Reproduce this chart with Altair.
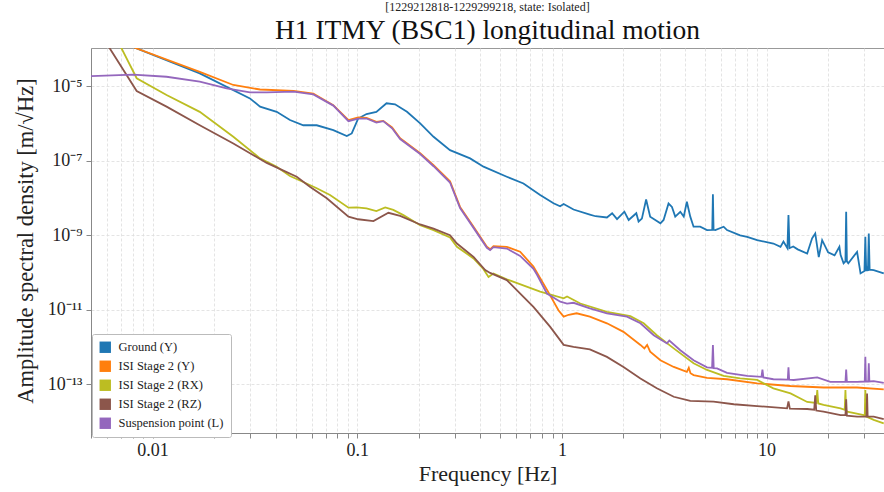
import altair as alt
import pandas as pd

# ---------------- data ----------------
series_names = ["Ground (Y)", "ISI Stage 2 (Y)", "ISI Stage 2 (RX)",
                "ISI Stage 2 (RZ)", "Suspension point (L)"]
series_colors = ["#1f77b4", "#ff7f0e", "#bcbd22", "#8c564b", "#9467bd"]

ground_freq = [0.005, 0.00836, 0.0170, 0.0299, 0.0335, 0.0404, 0.0469, 0.0545, 0.0634,
               0.0764, 0.0889, 0.0940, 0.101, 0.111, 0.124, 0.139, 0.153, 0.175, 0.203,
               0.236, 0.284, 0.356, 0.414, 0.538, 0.649, 0.783, 0.910, 0.98, 1.02, 1.14,
               1.37, 1.46, 1.66, 1.76, 1.86, 2.02, 2.12, 2.31, 2.37, 2.46, 2.58, 2.70, 2.86,
               3.03, 3.14, 3.32, 3.45, 3.58, 3.79, 3.94, 4.08, 4.24, 4.40, 4.74, 5.12, 5.43,
               5.47, 5.51, 5.62, 6.17, 6.41, 7.43, 8.04, 9.0, 10.8, 11.7, 12.1, 12.65, 12.8,
               12.95, 13.5, 14.2, 15.8, 16.7, 17.3, 18.0, 18.7, 20.0, 21.5, 22.7, 23.0, 23.8,
               24.3, 24.5, 24.7, 25.1, 27.7, 28.8, 30.1, 30.4, 30.7, 31.0, 31.3, 31.6, 31.9,
               33.4, 37.4]
ground_asd = [3.0e-4, 1.02e-4, 2.19e-5, 4.68e-6, 2.82e-6, 2.04e-6, 1.23e-6, 8.9e-7, 8.9e-7,
              6.6e-7, 4.57e-7, 5.37e-7, 1.35e-6, 1.78e-6, 2.04e-6, 3.47e-6, 3.24e-6, 2.04e-6,
              1.0e-6, 4.37e-7, 1.91e-7, 1.15e-7, 6.9e-8, 3.72e-8, 2.45e-8, 1.20e-8, 7.2e-9,
              6.0e-9, 6.9e-9, 4.9e-9, 3.6e-9, 3.24e-9, 3.0e-9, 3.9e-9, 2.7e-9, 4.3e-9,
              2.57e-9, 3.9e-9, 2.34e-9, 2.8e-9, 9.1e-9, 3.16e-9, 2.57e-9, 2.09e-9, 2.57e-9,
              7.1e-9, 5.75e-9, 3.16e-9, 4.27e-9, 3.16e-9, 7.9e-9, 3.16e-9, 1.70e-9, 1.70e-9,
              1.38e-9, 1.4e-9, 1.26e-8, 1.4e-9, 1.38e-9, 1.70e-9, 1.38e-9, 1.0e-9, 9.1e-10,
              7.4e-10, 6.0e-10, 4.9e-10, 6.8e-10, 4.5e-10, 3.47e-9, 4.5e-10, 5.0e-10, 4.2e-10,
              3.24e-10, 8.3e-10, 1.12e-9, 2.6e-10, 7.4e-10, 3.5e-10, 2.9e-10, 4.9e-10, 3.0e-10,
              1.78e-10, 2.0e-10, 4.27e-9, 2.0e-10, 1.78e-10, 3.6e-10, 9.5e-11, 1.1e-10,
              9.1e-10, 1.1e-10, 1.26e-10, 1.1e-10, 1.12e-9, 1.2e-10, 1.17e-10, 9.5e-11]

isi_y_freq = [0.005, 0.00836, 0.0170, 0.0248, 0.0335, 0.0488, 0.0610, 0.0764, 0.0906, 0.101,
              0.111, 0.124, 0.134, 0.148, 0.162, 0.203, 0.236, 0.284, 0.318, 0.370, 0.430,
              0.446, 0.463, 0.538, 0.625, 0.726, 0.845, 0.962, 1.02, 1.08, 1.18, 1.37, 1.66,
              2.00, 2.42, 2.53, 2.61, 2.70, 3.03, 3.52, 4.08, 4.17, 4.25, 4.40, 5.12, 6.41,
              9.0, 13.1, 19.0, 27.7, 37.4]
isi_y_asd = [3.2e-4, 1.02e-4, 2.40e-5, 1.07e-5, 8.1e-6, 7.4e-6, 6.3e-6, 3.09e-6, 1.23e-6,
             1.45e-6, 1.41e-6, 1.10e-6, 1.17e-6, 7.8e-7, 4.0e-7, 1.58e-7, 7.6e-8, 2.8e-8,
             5.75e-9, 1.70e-9, 4.9e-10, 4.2e-10, 5.1e-10, 4.9e-10, 3.63e-10, 1.45e-10,
             3.5e-11, 9.8e-12, 6.6e-12, 7.4e-12, 8.1e-12, 6.6e-12, 4.37e-12, 2.57e-12,
             1.15e-12, 9.3e-13, 1.15e-12, 7.6e-13, 4.47e-13, 2.95e-13, 2.19e-13, 2.8e-13,
             2.0e-13, 1.78e-13, 1.51e-13, 1.38e-13, 1.07e-13, 9.1e-14, 8.3e-14, 8.3e-14,
             7.4e-14]

isi_rx_freq = [0.0060, 0.00705, 0.00836, 0.0117, 0.0170, 0.0248, 0.0335, 0.0404, 0.0469,
               0.0545, 0.0634, 0.0736, 0.0906, 0.0995, 0.111, 0.124, 0.137, 0.150, 0.168,
               0.203, 0.236, 0.284, 0.307, 0.370, 0.414, 0.438, 0.463, 0.538, 0.783, 1.02,
               1.06, 1.23, 1.66, 2.16, 2.51, 2.91, 3.52, 4.40, 5.12, 6.17, 7.43, 9.0, 10.8,
               13.1, 15.8, 17.5, 17.7, 17.9, 19.0, 23.0, 24.1, 24.3, 24.5, 24.8, 29.9, 30.2,
               30.4, 30.6, 33.4, 37.4]
isi_rx_asd = [6.0e-4, 1.02e-4, 1.62e-5, 5.75e-6, 2.04e-6, 4.37e-7, 1.15e-7, 6.9e-8, 3.89e-8,
              2.69e-8, 1.82e-8, 1.20e-8, 5.5e-9, 5.6e-9, 5.25e-9, 4.47e-9, 5.6e-9, 4.8e-9,
              3.47e-9, 1.86e-9, 1.38e-9, 8.7e-10, 4.9e-10, 2.40e-10, 1.23e-10, 7.6e-11,
              9.5e-11, 6.6e-11, 3.09e-11, 2.04e-11, 2.29e-11, 1.48e-11, 8.9e-12, 6.8e-12,
              4.37e-12, 2.09e-12, 9.3e-13, 3.72e-13, 2.45e-13, 1.70e-13, 1.45e-13, 1.32e-13,
              7.9e-14, 5.75e-14, 3.39e-14, 3.2e-14, 7.1e-14, 3.1e-14, 2.82e-14, 2.29e-14,
              2.1e-14, 7.1e-14, 2.0e-14, 1.86e-14, 1.51e-14, 1.5e-14, 7.1e-14, 1.4e-14,
              1.12e-14, 9.1e-15]

isi_rz_freq = [0.005, 0.00618, 0.00836, 0.0117, 0.0170, 0.0248, 0.0361, 0.0436, 0.0506,
               0.0587, 0.0710, 0.0906, 0.101, 0.120, 0.142, 0.162, 0.203, 0.236, 0.284,
               0.307, 0.370, 0.422, 0.446, 0.538, 0.649, 0.726, 0.875, 1.02, 1.14, 1.37,
               1.66, 2.00, 2.42, 2.91, 3.52, 4.24, 5.51, 6.92, 9.0, 12.6, 12.8, 13.0, 15.8,
               17.1, 17.3, 17.5, 19.0, 23.0, 24.3, 24.5, 24.7, 27.7, 30.8, 31.0, 31.2, 33.4,
               37.4]
isi_rz_asd = [6.5e-4, 1.02e-4, 7.4e-6, 2.82e-6, 8.9e-7, 2.88e-7, 8.7e-8, 5.4e-8, 3.72e-8,
              2.0e-8, 9.8e-9, 3.16e-9, 2.69e-9, 2.40e-9, 4.0e-9, 3.31e-9, 1.95e-9, 1.51e-9,
              1.0e-9, 6.0e-10, 2.63e-10, 1.17e-10, 9.8e-11, 6.3e-11, 2.24e-11, 1.20e-11,
              3.55e-12, 1.15e-12, 1.02e-12, 8.7e-13, 5.5e-13, 2.95e-13, 1.45e-13, 7.9e-14,
              4.68e-14, 3.63e-14, 3.47e-14, 2.95e-14, 2.63e-14, 2.29e-14, 3.5e-14, 2.25e-14,
              2.2e-14, 2.1e-14, 5.1e-14, 2.0e-14, 1.86e-14, 1.51e-14, 1.5e-14, 4.0e-14,
              1.45e-14, 1.38e-14, 1.4e-14, 5.75e-14, 1.4e-14, 1.38e-14, 1.17e-14]

susp_freq = [0.005, 0.00804, 0.0117, 0.0170, 0.0230, 0.0299, 0.0361, 0.0488, 0.0610, 0.0764,
             0.0906, 0.101, 0.111, 0.124, 0.134, 0.148, 0.162, 0.203, 0.236, 0.284, 0.318,
             0.370, 0.430, 0.446, 0.463, 0.538, 0.625, 0.726, 0.755, 0.845, 0.982, 1.06,
             1.14, 1.37, 1.66, 2.08, 2.42, 2.81, 3.26, 3.35, 3.79, 4.40, 5.12, 5.42, 5.47,
             5.52, 5.73, 6.41, 8.04, 9.45, 9.55, 9.65, 10.8, 12.7, 12.8, 12.9, 13.6, 17.7,
             20.5, 24.3, 24.5, 24.7, 27.7, 30.2, 30.4, 30.6, 31.4, 31.6, 31.8, 33.4, 37.4]
susp_asd = [1.86e-5, 2.04e-5, 1.78e-5, 1.32e-5, 8.7e-6, 6.8e-6, 6.8e-6, 7.1e-6, 6.0e-6,
            3.0e-6, 1.15e-6, 1.35e-6, 1.35e-6, 1.05e-6, 1.15e-6, 7.4e-7, 3.8e-7, 1.51e-7,
            7.1e-8, 2.6e-8, 5.4e-9, 1.58e-9, 4.6e-10, 4.0e-10, 4.8e-10, 4.4e-10, 2.8e-10,
            1.26e-10, 8.9e-11, 2.75e-11, 1.66e-11, 1.48e-11, 1.55e-11, 1.10e-11, 8.1e-12,
            6.6e-12, 4.37e-12, 2.09e-12, 1.26e-12, 1.51e-12, 8.3e-13, 4.47e-13, 2.88e-13,
            2.8e-13, 1.15e-12, 2.75e-13, 2.69e-13, 2.04e-13, 1.70e-13, 1.6e-13, 2.51e-13,
            1.55e-13, 1.38e-13, 1.35e-13, 2.88e-13, 1.34e-13, 1.32e-13, 1.55e-13, 1.17e-13,
            1.17e-13, 2.51e-13, 1.17e-13, 1.17e-13, 1.2e-13, 5.5e-13, 1.2e-13, 1.2e-13,
            3.72e-13, 1.2e-13, 1.23e-13, 1.10e-13]

x_tick_values = [0.005, 0.006, 0.007, 0.008, 0.009,
                 0.01, 0.02, 0.03, 0.04, 0.05, 0.06, 0.07, 0.08, 0.09,
                 0.1, 0.2, 0.3, 0.4, 0.5, 0.6, 0.7, 0.8, 0.9,
                 1, 2, 3, 4, 5, 6, 7, 8, 9,
                 10, 20, 30]
y_tick_values = [1e-13, 1e-11, 1e-9, 1e-7, 1e-5]

# ---------------- table ----------------
freqs = [ground_freq, isi_y_freq, isi_rx_freq, isi_rz_freq, susp_freq]
asds = [ground_asd, isi_y_asd, isi_rx_asd, isi_rz_asd, susp_asd]
rows = []
for name, fs, vs in zip(series_names, freqs, asds):
    for i, (f, v) in enumerate(zip(fs, vs)):
        rows.append({"series": name, "freq": f, "asd": v, "idx": i})
df = pd.DataFrame(rows)

# one off-domain row per series, drawn as a clipped square: it only feeds the legend
legend_df = pd.DataFrame({"series": series_names,
                          "freq": [100.0] * len(series_names),
                          "asd": [1e-10] * len(series_names)})

FONT = "Liberation Serif"

x_enc = alt.X("freq:Q",
              scale=alt.Scale(type="log", domain=[0.005, 37.5], nice=False),
              axis=alt.Axis(values=x_tick_values,
                            labelExpr="datum.value == 0.01 ? '0.01' : datum.value == 0.1 ? '0.1' : datum.value == 1 ? '1' : datum.value == 10 ? '10' : ''",
                            title="Frequency [Hz]"))
y_enc = alt.Y("asd:Q",
              scale=alt.Scale(type="log", domain=[5.0e-15, 1.05e-4], nice=False),
              axis=alt.Axis(values=y_tick_values,
                            labelExpr="datum.value < 1e-12 ? '10⁻¹³' : datum.value < 1e-10 ? '10⁻¹¹' : datum.value < 1e-8 ? '10⁻⁹' : datum.value < 1e-6 ? '10⁻⁷' : '10⁻⁵'",
                            title="Amplitude spectral density [m/√Hz]"))
color_enc = alt.Color("series:N",
                      scale=alt.Scale(domain=series_names, range=series_colors),
                      legend=alt.Legend(title=None, orient="none", legendX=1, legendY=286,
                                        symbolType="square", symbolSize=130,
                                        symbolStrokeWidth=0, labelFont=FONT,
                                        labelFontSize=12.5, labelColor="#222",
                                        labelOffset=7,
                                        rowPadding=6, padding=7,
                                        strokeColor="#bbbbbb", fillColor="white",
                                        cornerRadius=2))

legend_layer = alt.Chart(legend_df).mark_square(filled=True, clip=True, opacity=1).encode(
    x=x_enc, y=y_enc, color=color_enc)

layers = [legend_layer]
for name in series_names:
    layers.append(
        alt.Chart(df).transform_filter(alt.datum.series == name)
        .mark_line(strokeWidth=1.8, clip=True)
        .encode(x=x_enc, y=y_enc, color=color_enc, order="idx:Q")
    )

chart = alt.layer(*layers).properties(
    width=793, height=385,
    title=alt.TitleParams(
        text="[1229212818-1229299218, state: Isolated]",
        subtitle="H1 ITMY (BSC1) longitudinal motion",
        font=FONT, fontSize=12, fontWeight="normal", color="#222",
        subtitleFont=FONT, subtitleFontSize=27.5, subtitleColor="#111",
        subtitlePadding=3, anchor="middle", offset=3),
    padding={"left": 91, "top": 48, "right": 0, "bottom": 59},
    autosize=alt.AutoSizeParams(type="none"),
).configure_view(
    stroke="#999999", strokeWidth=1
).configure_axis(
    labelFont=FONT, titleFont=FONT, labelFontSize=18, titleFontSize=22.5,
    titleFontWeight="normal", labelColor="#222", titleColor="#222",
    domainColor="#888888", tickColor="#888888", tickSize=5,
    gridColor="#dddddd", gridDash=[3, 2], gridWidth=0.8,
).configure_axisX(
    labelPadding=3, titlePadding=4, titleFontSize=22
).configure_axisY(
    labelPadding=4, titlePadding=10
)

chart.save("out.html", embed_options={"renderer": "svg", "actions": False})
